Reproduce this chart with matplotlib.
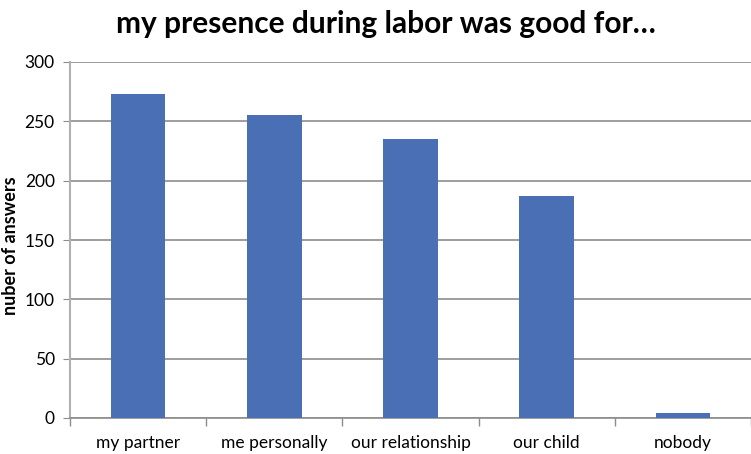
import matplotlib
matplotlib.use("Agg")
import matplotlib.pyplot as plt
import numpy as np

categories = ["my partner", "me personally", "our relationship", "our child", "nobody"]
answers = [273, 255, 235, 187, 4]
yticks = [0, 50, 100, 150, 200, 250, 300]

plt.rcParams["font.family"] = ["Lato", "DejaVu Sans"]

fig = plt.figure(figsize=(7.51, 4.54), dpi=100)
ax = fig.add_axes([70 / 751, 1 - 418 / 454, 681 / 751, 356 / 454])

x = np.arange(len(categories))
ax.bar(x, answers, width=0.4, color="#4a6fb5", zorder=3)

ax.set_xlim(-0.5, len(categories) - 0.5)
ax.set_ylim(0, 300)
ax.set_yticks(yticks)
ax.yaxis.grid(True, color="#8c8c8c", linewidth=1.2, zorder=0)

ax.set_xticks(x)
ax.set_xticklabels(categories, fontsize=12.5)
ax.tick_params(axis="x", length=0, pad=12)
ax.set_xticks(np.arange(len(categories) + 1) - 0.5, minor=True)
ax.tick_params(axis="x", which="minor", length=6, color="#8c8c8c", width=1)
ax.tick_params(axis="y", labelsize=12.5, length=5, color="#8c8c8c", pad=6)

for side in ["top", "right"]:
    ax.spines[side].set_visible(False)
ax.spines["left"].set_color("#b0b0b0")
ax.spines["left"].set_linewidth(1.5)
ax.spines["bottom"].set_color("#8c8c8c")
ax.spines["bottom"].set_linewidth(1.2)

fig.text(11 / 751, 1 - 246 / 454, "nuber of answers", rotation=90,
         ha="center", va="center", fontsize=13, fontweight="bold")
fig.text(386 / 751, 1 - 24 / 454, "my presence during labor was good for\u2026",
         ha="center", va="center", fontsize=21.5, fontweight="bold")

fig.savefig("out.png", dpi=100)
